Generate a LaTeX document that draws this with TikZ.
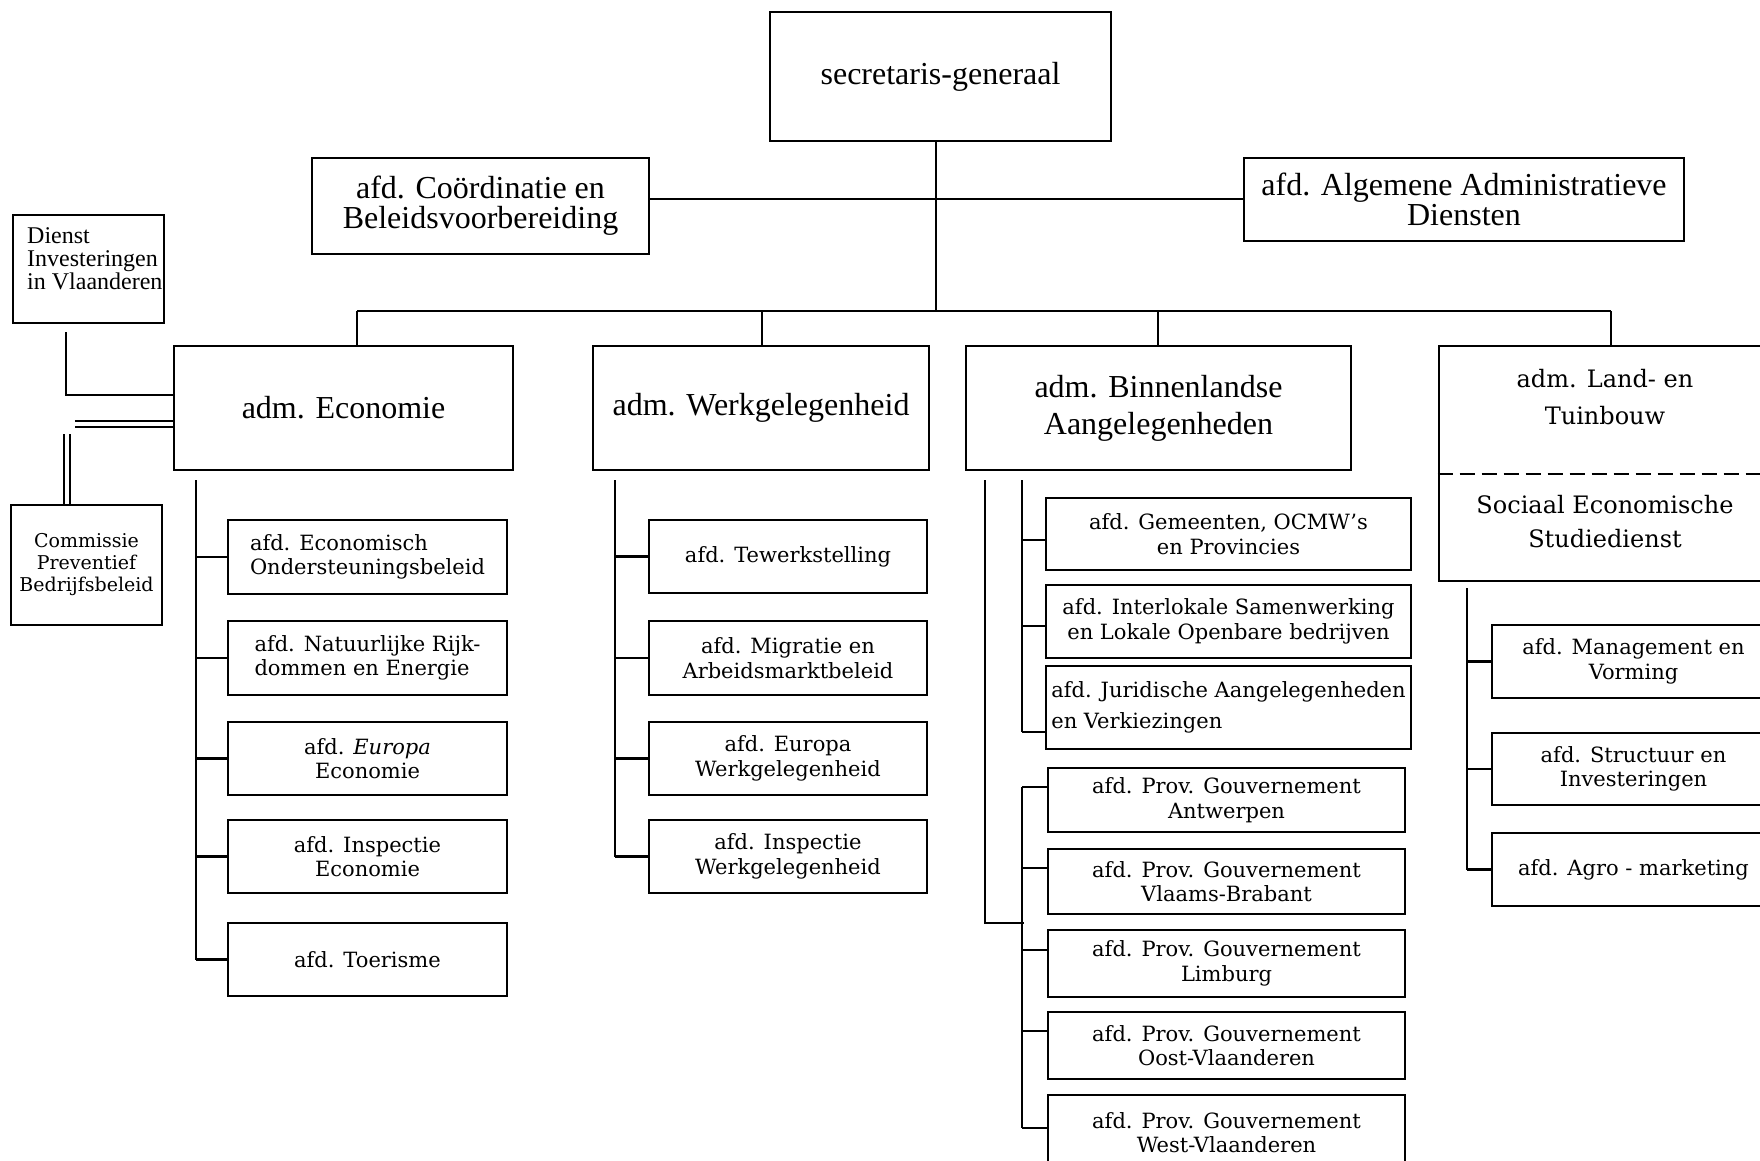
\documentclass[tikz,border=0pt]{standalone}
\usepackage{fontspec}
\setmainfont{Liberation Serif}
\newfontfamily\widefont{DejaVu Serif}
\begin{document}
\begin{tikzpicture}[x=1pt,y=-1pt,
  box/.style={draw, line width=2.8pt, inner sep=0pt, align=center},
  rect/.style n args={4}{minimum width={((#3)-(#1))*1pt}, minimum height={((#4)-(#2))*1pt}, at={({((#1)+(#3))/2},{((#2)+(#4))/2})}},
  big/.style={font=\fontsize{32}{30}\selectfont},
  small/.style={font=\widefont\fontsize{21}{24.5}\selectfont},
  ln/.style={line width=2.3pt},
  dbl/.style={double, double distance=3.5pt, line width=2pt},
]
\useasboundingbox (0,0) rectangle (1760,1160);
\fill[white] (0,0) rectangle (1760,1160);
\clip (0,0) rectangle (1760,1160);

% top level
\node[box,big,rect={770}{12}{1111}{141}] (sec) {secretaris-generaal};
\node[box,big,rect={312}{158}{649}{254}] (coord) {afd. Coördinatie en\\Beleidsvoorbereiding};
\node[box,big,rect={1244}{158}{1684}{241}] (alg) {afd. Algemene Administratieve\\Diensten};

% side boxes
\node[box,rect={13}{215}{164}{323}] (dienst) {};
\node[anchor=north west, align=left, inner sep=0pt, font=\fontsize{24}{23}\selectfont] (dienstt) at (27,227) {Dienst\\Investeringen\\in Vlaanderen};
\node[box,rect={11}{505}{162}{625}, font=\widefont\fontsize{19}{22}\selectfont] (comm) {Commissie\\Preventief\\Bedrijfsbeleid};

% administrations
\node[box,big,rect={174}{346}{513}{470}] (econ) {adm. Economie};
\node[box,big,rect={593}{346}{929}{470}] (werk) {adm. Werkgelegenheid};
\node[box,rect={966}{346}{1351}{470}, font=\fontsize{32}{37}\selectfont] (binn) {adm. Binnenlandse\\Aangelegenheden};
\node[box,rect={1439}{346}{1775}{581}] (land) {};
\node[align=center, font=\widefont\fontsize{24}{37}\selectfont] (landa) at (1605,397) {adm. Land- en\\Tuinbouw};
\node[align=center, font=\widefont\fontsize{24}{34}\selectfont] (landb) at (1605,522) {Sociaal Economische\\Studiedienst};
\coordinate (dashy) at (0,474);
\draw[line width=2.6pt, dash pattern=on 15pt off 7pt] (land.west |- dashy) -- (land.east |- dashy);

% Economie children
\node[box,small,align=left,rect={228}{520}{507}{594}] (e1) {afd. Economisch\\Ondersteuningsbeleid};
\node[box,small,align=left,rect={228}{621}{507}{695}] (e2) {afd. Natuurlijke Rijk-\\dommen en Energie};
\node[box,small,rect={228}{722}{507}{795}] (e3) {afd. \textit{Europa}\\Economie};
\node[box,small,rect={228}{820}{507}{893}] (e4) {afd. Inspectie\\Economie};
\node[box,small,rect={228}{923}{507}{996}] (e5) {afd. Toerisme};

% Werkgelegenheid children
\node[box,small,rect={649}{520}{927}{593}] (w1) {afd. Tewerkstelling};
\node[box,small,rect={649}{621}{927}{695}] (w2) {afd. Migratie en\\Arbeidsmarktbeleid};
\node[box,small,rect={649}{722}{927}{795}] (w3) {afd. Europa\\Werkgelegenheid};
\node[box,small,rect={649}{820}{927}{893}] (w4) {afd. Inspectie\\Werkgelegenheid};

% Binnenlandse children
\node[box,small,rect={1046}{498}{1411}{570}] (b1) {afd. Gemeenten, OCMW’s\\en Provincies};
\node[box,small,rect={1046}{585}{1411}{658}] (b2) {afd. Interlokale Samenwerking\\en Lokale Openbare bedrijven};
\node[box,align=left,rect={1046}{666}{1411}{749}, font=\widefont\fontsize{21}{31}\selectfont] (b3) {afd. Juridische Aangelegenheden\\en Verkiezingen};
\node[box,small,rect={1048}{768}{1405}{832}] (p1) {afd. Prov. Gouvernement\\Antwerpen};
\node[box,small,rect={1048}{849}{1405}{914}] (p2) {afd. Prov. Gouvernement\\Vlaams-Brabant};
\node[box,small,rect={1048}{930}{1405}{997}] (p3) {afd. Prov. Gouvernement\\Limburg};
\node[box,small,rect={1048}{1012}{1405}{1079}] (p4) {afd. Prov. Gouvernement\\Oost-Vlaanderen};
\node[box,small,rect={1048}{1095}{1405}{1170}] (p5) {afd. Prov. Gouvernement\\West-Vlaanderen};

% Land- en Tuinbouw children
\node[box,small,rect={1492}{625}{1775}{698}] (l1) {afd. Management en\\Vorming};
\node[box,small,rect={1492}{733}{1775}{805}] (l2) {afd. Structuur en\\Investeringen};
\node[box,small,rect={1492}{833}{1775}{906}] (l3) {afd. Agro - marketing};

% top connectors
\coordinate (hub) at (936,199);
\coordinate (bus) at (936,311);
\draw[ln] (coord.east |- hub) -- (alg.west |- hub);
\draw[line width=1.8pt] (bus |- sec.south) -- (bus);
\coordinate (k1) at (357,311);
\coordinate (k2) at (762,311);
\coordinate (k3) at (1158,311);
\coordinate (k4) at (1611,311);
\draw[line width=2.6pt] (k1) -- (k4);
\draw[ln] (k1) -- (k1 |- econ.north);
\draw[ln] (k2) -- (k2 |- werk.north);
\draw[ln] (k3) -- (k3 |- binn.north);
\draw[ln] (k4) -- (k4 |- land.north);

% Dienst and Commissie
\coordinate (d1) at (66,332);
\coordinate (d2) at (66,395);
\draw[ln] (d1) -- (d2) -- (d2 -| econ.west);
\coordinate (c1) at (67,434);
\coordinate (c2) at (75,424);
\draw[dbl] (c1 |- comm.north) -- (c1);
\draw[dbl] (c2) -- (c2 -| econ.west);

% Economie spine
\coordinate (es) at (196,480);
\draw[ln] (es) -- (es |- e5.west);
\foreach \i in {1,...,5} {\draw[ln] (es |- e\i.west) -- (e\i.west);}

% Werkgelegenheid spine
\coordinate (ws) at (615,480);
\draw[ln] (ws) -- (ws |- w4.west);
\foreach \i in {1,...,4} {\draw[ln] (ws |- w\i.west) -- (w\i.west);}

% Binnenlandse spines
\coordinate (bo) at (985,480);
\coordinate (bj) at (1024,923);
\draw[ln] (bo) -- (bo |- bj) -- (bj);
\coordinate (bu) at (1022,480);
\coordinate (bt1) at (1022,540);
\coordinate (bt2) at (1022,626);
\coordinate (bt3) at (1022,732);
\draw[ln] (bu) -- (bt3);
\draw[ln] (bt1) -- (bt1 -| b1.west);
\draw[ln] (bt2) -- (bt2 -| b2.west);
\draw[ln] (bt3) -- (bt3 -| b3.west);
\coordinate (pt1) at (1022,787);
\coordinate (pt2) at (1022,868);
\coordinate (pt3) at (1022,950);
\coordinate (pt4) at (1022,1031);
\coordinate (pt5) at (1022,1128);
\draw[ln] (pt1) -- (pt5);
\foreach \i in {1,...,5} {\draw[ln] (pt\i) -- (pt\i -| p\i.west);}

% Land- en Tuinbouw spine
\coordinate (ls) at (1467,588);
\draw[ln] (ls) -- (ls |- l3.west);
\foreach \i in {1,2,3} {\draw[ln] (ls |- l\i.west) -- (l\i.west);}
\end{tikzpicture}
\end{document}
